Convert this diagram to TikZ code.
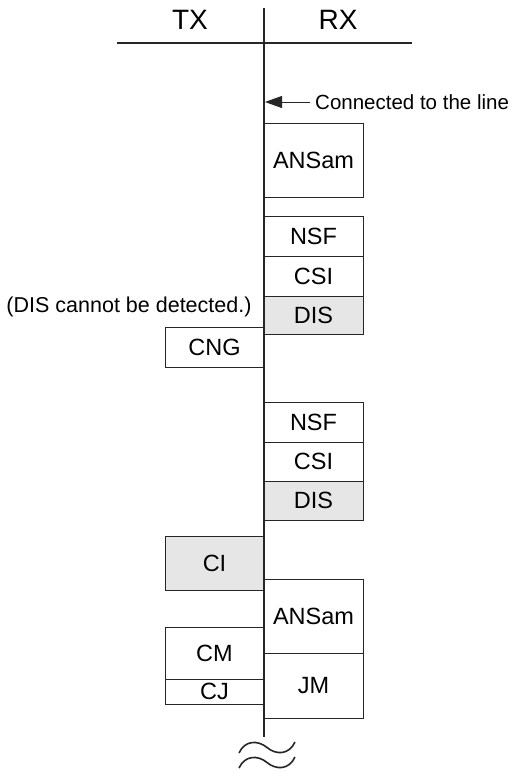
\documentclass[tikz,border=0pt]{standalone}
\usepackage{fontspec}
\setmainfont{Liberation Sans}
\usetikzlibrary{arrows.meta}
\definecolor{boxgray}{RGB}{230,230,230}
\begin{document}
\begin{tikzpicture}[x=1pt,y=-1pt,
  msgbox/.style={draw=black!85,line width=0.9pt,minimum width=99pt,inner sep=0pt,font=\fontsize{23.5}{25}\selectfont,fill=white},
  graybox/.style={msgbox,fill=boxgray},
  hdr/.style={font=\fontsize{28}{30}\selectfont,inner sep=0pt},
  note/.style={font=\fontsize{21.5}{24}\selectfont,inner sep=0pt}]
\useasboundingbox (0,0) rectangle (512,771);
% headers
\node[hdr] (tx) at (190,20) {TX};
\node[hdr] (rx) at (338,20) {RX};
\coordinate (hl) at (117,43);
\coordinate (hr) at (412,43);
\draw[line width=1.8pt,black!85] (hl) -- (hr);
% RX boxes
\node[msgbox,minimum height=74pt] (ans1) at (313.5,160) {ANSam};
\node[msgbox,minimum height=40pt] (nsf1) at (313.5,236) {NSF};
\node[msgbox,minimum height=40pt] (csi1) at (313.5,276) {CSI};
\node[graybox,minimum height=38pt] (dis1) at (313.5,315) {DIS};
\node[msgbox,minimum height=40pt] (nsf2) at (313.5,422) {NSF};
\node[msgbox,minimum height=39pt] (csi2) at (313.5,461.5) {CSI};
\node[graybox,minimum height=39pt] (dis2) at (313.5,500.5) {DIS};
\node[msgbox,minimum height=74pt] (ans2) at (313.5,616) {ANSam};
\node[msgbox,minimum height=65pt] (jm) at (313.5,685.5) {JM};
% TX boxes
\node[msgbox,minimum height=40pt] (cng) at (214.5,347) {CNG};
\node[graybox,minimum height=54pt] (ci) at (214.5,563) {CI};
\node[msgbox,minimum height=52pt] (cm) at (214.5,653) {CM};
\node[msgbox,minimum height=25pt] (cj) at (214.5,691.5) {CJ};
% main line
\coordinate (vtop) at (264,8);
\coordinate (vbot) at (264,737);
\draw[line width=2pt,black!85] (vtop) -- (vbot);
% notes
\node[note] (disnote) at (129,307) {(DIS cannot be detected.)};
\node[font=\fontsize{20.5}{24}\selectfont,inner sep=0pt,anchor=west] (conn) at (315,102) {Connected to the line};
\coordinate (arrstart) at (310,102);
\coordinate (arrtip) at (265,102);
\draw[line width=0.9pt,black!85,-{Triangle[length=17pt,width=12pt]}] (arrstart) -- (arrtip);
% break symbol
\draw[line width=1.6pt,black!85] (239,753) .. controls (245,740) and (258,740) .. (267,747.5) .. controls (276,755) and (289,755) .. (295,742);
\draw[line width=1.6pt,black!85] (239,768) .. controls (245,755) and (258,755) .. (267,762.5) .. controls (276,770) and (289,770) .. (295,757);
\end{tikzpicture}
\end{document}
